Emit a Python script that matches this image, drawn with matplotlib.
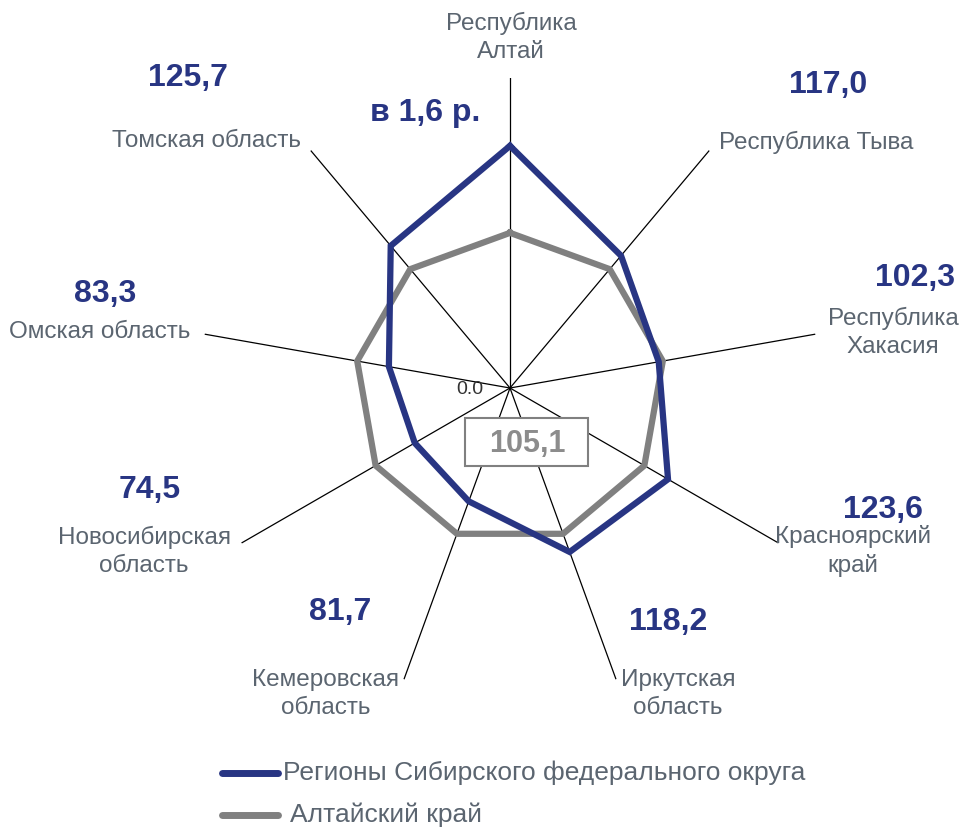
import numpy as np
import matplotlib
matplotlib.use("Agg")
import matplotlib.pyplot as plt
from matplotlib.lines import Line2D
from matplotlib.patches import Rectangle

plt.rcParams['font.family'] = ['Liberation Sans', 'DejaVu Sans']

categories = ["Республика\nАлтай", "Республика Тыва", "Республика\nХакасия",
              "Красноярский\nкрай", "Иркутская\nобласть", "Кемеровская\nобласть",
              "Новосибирская\nобласть", "Омская область", "Томская область"]
sfo_values = [164.0, 117.0, 102.3, 123.6, 118.2, 81.7, 74.5, 83.3, 125.7]
sfo_labels = ["в 1,6 р.", "117,0", "102,3", "123,6", "118,2", "81,7", "74,5", "83,3", "125,7"]
altai_value = 105.1
altai_values = [altai_value] * len(categories)
series_names = ["Регионы Сибирского федерального округа", "Алтайский край"]

BLUE = "#283583"
GREY = "#808080"
TXT = "#5b6570"

W, H = 964, 827
fig = plt.figure(figsize=(W / 100, H / 100), dpi=100)

cx, cy, R = 510, 388, 310
rmax = 210
ax = fig.add_axes([(cx - R) / W, (H - cy - R) / H, 2 * R / W, 2 * R / H], projection='polar')
ax.set_theta_zero_location('N')
ax.set_theta_direction(-1)
ax.set_ylim(0, rmax)
ax.axis('off')

n = len(categories)
theta = np.deg2rad(np.arange(n) * 360.0 / n)

for t in theta:
    ax.plot([t, t], [0, rmax], color='black', lw=0.9, zorder=1)

tc = np.append(theta, theta[0])
ax.plot(tc, np.append(altai_values, altai_values[0]), color=GREY, lw=4.5, zorder=3,
        solid_joinstyle='miter')
ax.plot(tc, np.append(sfo_values, sfo_values[0]), color=BLUE, lw=4.5, zorder=4,
        solid_joinstyle='miter')

ax.annotate("0.0", xy=(0, 0), xytext=(-40, -2), textcoords='offset pixels',
            ha='center', va='center', fontsize=14, color='#333333')


def fx(x):
    return x / W


def fy(y):
    return 1 - y / H


# category labels (pixel centers)
cat_pos = [(511, 37), (816, 142), (893, 332), (853, 551), (678, 694),
           (326, 694), (144, 551), (100, 332), (207, 141)]
for lab, (x, y) in zip(categories, cat_pos):
    fig.text(fx(x), fy(y), lab, ha='center', va='center', fontsize=17.5,
             color=TXT, linespacing=1.35)

val_pos = [(425, 113), (828, 85), (915, 278), (883, 510), (668, 622),
           (340, 612), (150, 490), (105, 294), (188, 78)]
for lab, (x, y) in zip(sfo_labels, val_pos):
    fig.text(fx(x), fy(y), lab, ha='center', va='center', fontsize=23,
             fontweight='bold', color=BLUE)

# grey value box
fig.patches.append(Rectangle((fx(465), fy(466)), (588 - 465) / W, (466 - 418) / H,
                             transform=fig.transFigure, facecolor='white',
                             edgecolor=GREY, lw=1.5, zorder=5))
fig.text(fx(527), fy(444), "105,1", ha='center', va='center', fontsize=22,
         fontweight='bold', color='#8c8c8c', zorder=6)

# legend
for (y, col, name, tx) in [(773, BLUE, series_names[0], 283), (815, GREY, series_names[1], 290)]:
    fig.add_artist(Line2D([fx(222), fx(278)], [fy(y), fy(y)], color=col, lw=5,
                          solid_capstyle='round', transform=fig.transFigure))
    fig.text(fx(tx), fy(y), name, ha='left', va='center', fontsize=19, color=TXT)

fig.savefig("out.png", dpi=100)
